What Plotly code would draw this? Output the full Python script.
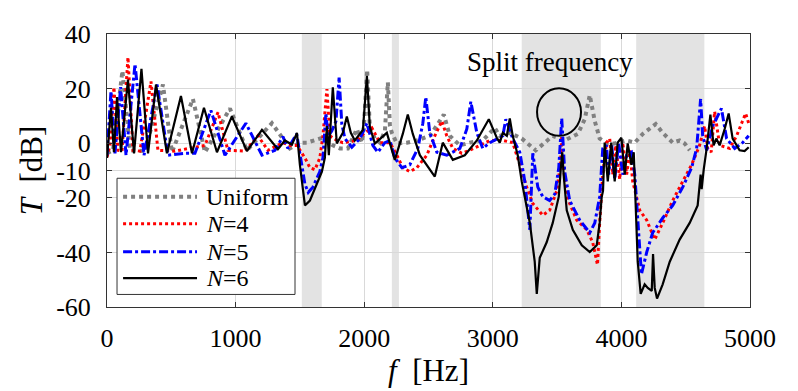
import plotly.graph_objects as go

# ---- data (frequency in Hz, transmission T in dB) ----
uniform = [(0,-3.7),(47,-2.6),(120,26.5),(179,-2.6),(295,-2.9),(435,21.5),(505,-3.3),(668,16.2),(762,-3.3),
           (956,12.7),(1088,-2.6),(1282,7.3),(1422,-1.9),(1500,0.2),(1554,0.2),(1679,2),(1756,-0.8),(1811,-1.9),
           (1873,-1.9),(1943,5.2),(1982,0.2),(1998,6.3),(2023,26.9),(2044,5.6),(2083,1.7),(2122,0.2),(2161,4.5),
           (2184,22.3),(2200,6.3),(2215,3.8),(2254,-0.1),
           (2332,0.2),(2409,1),(2510,2.7),(2572,7),(2619,10.5),(2666,2.7),(2744,-0.8),(2821,0.2),(2922,1),
           (3015,5.6),(3054,2.7),(3132,3.8),(3225,1.7),(3334,-2.6),(3466,2.7),(3559,1),(3661,3.4),(3715,8.8),
           (3754,17.6),(3793,8.1),(3831,1.7),(3886,-0.1),(3948,-0.1),(4041,1),(4104,0.2),(4166,3.4),(4220,5.2),
           (4267,7),(4321,3.8),(4399,0.2),(4453,1),(4492,-0.1),(4531,-2.6)]

n4 = [(0,-5.1),(23,-0.8),(54,20.5),(85,-2.6),(117,-2.9),(163,31.5),(202,-2.6),(256,-2.9),(342,22.6),(396,-2.6),
      (528,-2.9),(762,-0.8),(863,11.3),(940,-2.6),(1073,-2.9),(1174,2.7),(1251,-2.6),(1368,0.2),(1422,-0.8),
      (1477,-0.8),(1539,-5.4),(1578,-9),(1617,-9.7),(1655,-5.4),(1679,2.7),(1710,19.8),(1733,2.7),(1787,1),
      (1834,0.2),(1943,1),(2005,3.8),(2060,5.6),(2122,0.2),(2200,0.2),(2254,-4.4),(2300,-9),(2355,-10.4),
      (2409,-9),(2487,-4.4),(2549,2.7),(2604,8.1),(2642,2.7),(2689,-1.9),(2759,-3.7),(2821,-2.6),(2899,-0.8),
      (2977,1),(3078,1),(3155,0.2),(3210,-7.9),(3264,-16.1),(3311,-22.1),(3389,-26.4),(3442,-24.6),(3497,-17.5),
      (3526,-7.9),(3536,2.7),(3548,-7.9),(3575,-19.6),(3653,-28.2),(3731,-31.7),(3777,-36.3),(3814,-44.5),
      (3831,-29.2),(3855,-11.5),(3884,0.2),(3909,1.7),(3932,-11.5),(3956,-0.8),(3987,-13.2),(4010,0.2),
      (4041,-11.5),(4065,-2.6),(4088,-14),(4143,-24.6),(4197,-28.2),(4259,-35.3),(4321,-29.2),(4399,-21),
      (4477,-14),(4546,-7.9),(4608,-0.8),(4647,6.3),(4671,-1.9),(4698,-3.3),(4725,11.6),(4764,-0.8),(4842,-1.9),
      (4896,2.7),(4935,7.3),(4966,10.9),(4990,7.3)]

n5 = [(0,-4.4),(31,19.1),(62,-3.7),(106,20.5),(148,-4.4),(218,29),(288,-4.4),(389,21.5),(474,-4.4),(606,-3.7),
      (684,-3.7),(808,12),(917,-4.4),(1080,7.3),(1205,-4.4),(1306,-2.6),(1368,2.4),(1407,-1.9),(1475,3.4),
      (1500,-4.4),(1539,-15),(1565,-18),(1601,-16.1),(1655,-10.4),(1679,-5.4),(1702,10.9),(1720,2.7),(1748,4.5),
      (1780,8),(1805,24),(1826,7),(1850,1.7),(1904,-1.5),(1966,1.7),(2021,7.3),(2067,-0.8),(2106,-3.3),(2161,0.2),(2200,1),
      (2238,-5.4),(2293,-9),(2355,-7.9),(2417,-1.9),(2456,7.3),(2479,16.9),(2510,3.8),(2565,-3.3),(2642,-4.4),
      (2744,-1.9),(2798,5.2),(2829,15.2),(2876,3.8),(2922,-1.9),(2977,0.2),(3031,1.7),(3078,2.7),(3101,8.8),
      (3155,1.7),(3210,-3.3),(3249,-14),(3272,-24.6),(3288,-31.7),(3311,-3.7),(3350,-16.1),(3389,-19.6),
      (3442,-21),(3482,-18.6),(3513,-9),(3536,9.1),(3559,-10.4),(3598,-21),(3676,-28.2),(3754,-32.8),
      (3793,-29.2),(3831,-19.6),(3855,-1.9),(3884,-0.8),(3901,-11.5),(3925,-0.8),(3948,-13.2),(3979,0.2),
      (4010,-11.5),(4041,-4.4),(4078,-3.3),(4104,-11.5),(4127,-29.2),(4156,-48),(4197,-39.9),(4243,-32.8),
      (4321,-27.4),(4399,-22.8),(4477,-16.1),(4546,-9),(4585,-1.9),(4616,16.2),(4632,2.7),(4663,-2.6),
      (4710,6.3),(4778,12.7),(4818,1.7),(4881,-1.9),(4943,0.2),(4990,2.7)]

n6 = [(0,-5.4),(31,13),(54,-3.3),(78,16.9),(109,-3.3),(163,23.3),(210,-3.7),(268,27.2),(319,-3.7),(381,21.5),
      (466,-3.7),(575,17.3),(661,-3.7),(754,13),(855,-3.3),(971,9.8),(1088,-2.9),(1205,4.9),(1329,-2.2),
      (1383,1),(1438,-0.5),(1477,3.8),(1500,-7.9),(1539,-22.8),(1578,-21),(1671,-10.4),(1694,-5.4),(1710,6.3),
      (1725,-4.4),(1756,20.5),(1787,-0.1),(1834,3.8),(1865,9.8),(1896,3.8),(1927,1),(1990,4.9),(2021,24.7),
      (2044,6),(2083,-0.1),(2176,3.8),(2238,-6.1),(2300,3.4),
      (2339,10.5),(2378,3.4),(2433,-4.4),(2549,-12.2),(2611,0.2),(2689,-6.1),(2782,-4.4),(2876,1),(2969,8.8),(3031,2),
      (3054,0.2),(3078,3.8),(3109,2.7),(3132,9.1),(3155,2.7),(3194,-4.4),(3225,-14),(3256,-22.1),(3288,-29.2),
      (3326,-43.4),(3342,-55.2),(3365,-42),(3419,-36.3),(3466,-29.2),(3513,-19.6),(3528,-9.7),(3540,-3.3),
      (3551,-11.5),(3575,-24.6),(3622,-31.7),(3692,-37.4),(3754,-39.9),(3808,-37.4),(3831,-29.2),(3847,-19.6),
      (3857,-17.5),(3870,0.2),(3894,-14),(3921,0.2),(3948,-14),(3971,0.2),(4000,2),(4026,-11.5),(4049,-0.1),
      (4078,-7.9),(4096,-3.3),(4111,-21),(4127,-43.4),(4150,-55.2),(4181,-51.7),(4205,-53),(4236,-54.1),
      (4246,-40.6),(4259,-53),(4277,-56.9),(4321,-51.7),(4376,-43.4),(4453,-35.3),(4531,-29.2),(4593,-22.8),
      (4616,-11.5),(4624,-16.8),(4640,-9.7),(4663,-1.9),(4692,10.5),(4717,-0.8),(4738,1.7),(4764,-0.8),
      (4803,5.2),(4834,10.9),(4865,1.7),(4919,-2.6),(4958,-2.9),(4990,-1.5)]

shaded_bands = [(1515, 1670), (2215, 2270), (3225, 3840), (4115, 4645)]
x_ticks = [0, 1000, 2000, 3000, 4000, 5000]
x_ticktext = ["0", "1000", "2000", "3000", "4000", "5000"]
y_ticks = [40, 20, 0, -10, -20, -40, -60]
y_ticktext = ["40", "20", "0", "-10", "-20", "-40", "-60"]
split_circle = dict(f0=3344, f1=3686, t0=2.7, t1=20.1)
legend_labels = ["Uniform", "<i>N</i>=4", "<i>N</i>=5", "<i>N</i>=6"]

FONT = "Liberation Serif"

styles = [
    dict(color="#808080", width=4, dash="dot"),
    dict(color="#ff0000", width=3, dash="dot"),
    dict(color="#0000ff", width=3, dash="dashdot"),
    dict(color="#000000", width=2.2),
]
data_sets = [uniform, n4, n5, n6]

fig = go.Figure()
for name, pts, line in zip(legend_labels, data_sets, styles):
    fig.add_trace(go.Scatter(x=[p[0] for p in pts], y=[p[1] for p in pts], mode="lines",
                             name=name, line=line, showlegend=False))

for a, b in shaded_bands:
    fig.add_shape(type="rect", xref="x", yref="y", x0=a, x1=b, y0=-60, y1=40,
                  fillcolor="#e3e3e3", line_width=0, layer="below")

fig.add_shape(type="circle", xref="x", yref="y", x0=split_circle["f0"], x1=split_circle["f1"],
              y0=split_circle["t0"], y1=split_circle["t1"], line=dict(color="black", width=2))
fig.add_annotation(x=3443, y=29.7, xref="x", yref="y", text="Split frequency", showarrow=False,
                   font=dict(family=FONT, size=27, color="black"))

# legend box drawn in paper coordinates (MATLAB-style legend)
fig.add_shape(type="rect", xref="paper", yref="paper", x0=0.0156, x1=0.2924, y0=0.046, y1=0.4716,
              fillcolor="white", line=dict(color="#333333", width=1), layer="above")
row_y = [0.404, 0.305, 0.202, 0.106]
for lab, st, ry in zip(legend_labels, styles, row_y):
    fig.add_shape(type="line", xref="paper", yref="paper", x0=0.025, x1=0.140, y0=ry, y1=ry,
                  line=st, layer="above")
    fig.add_annotation(x=0.151, y=ry, xref="paper", yref="paper", text=lab, showarrow=False,
                       xanchor="left", yanchor="middle", font=dict(family=FONT, size=24, color="black"))

# page body adds an 8px margin, so the figure is sized/margined to compensate
fig.update_layout(
    width=790, height=383,
    margin=dict(l=99, r=48, t=17, b=84),
    plot_bgcolor="white", paper_bgcolor="white",
    font=dict(family=FONT, color="black", size=26),
    showlegend=False,
)
fig.update_xaxes(range=[0, 5000], tickvals=x_ticks, ticktext=x_ticktext, showgrid=True,
                 gridcolor="#d9d9d9", gridwidth=1,
                 zeroline=False, showline=True, linecolor="#333333", linewidth=1, mirror="ticks",
                 ticks="inside", ticklen=5, tickcolor="#333333", ticklabelstandoff=8,
                 tickfont=dict(family=FONT, size=26),
                 title=dict(text="<i>f</i>  [Hz]", font=dict(family=FONT, size=31), standoff=0))
fig.update_yaxes(range=[-60, 40], tickvals=y_ticks, ticktext=y_ticktext, showgrid=True,
                 gridcolor="#d9d9d9", gridwidth=1,
                 zeroline=False, showline=True, linecolor="#333333", linewidth=1, mirror="ticks",
                 ticks="inside", ticklen=5, tickcolor="#333333", ticklabelstandoff=10,
                 tickfont=dict(family=FONT, size=26),
                 title=dict(text="<i>T</i>  [dB]", font=dict(family=FONT, size=31), standoff=4))

fig.write_html("out.html")
